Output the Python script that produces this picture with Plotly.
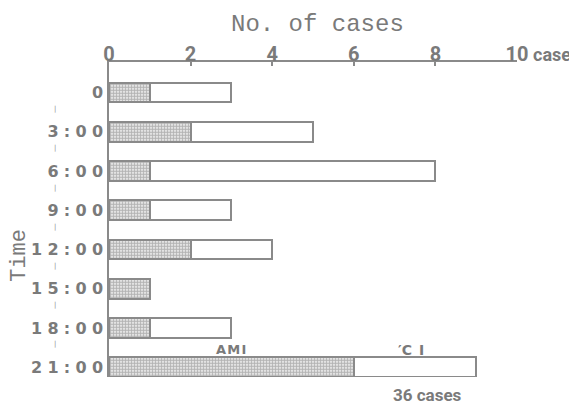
import plotly.graph_objects as go

times = ["0", "3:00", "6:00", "9:00", "12:00", "15:00", "18:00", "21:00"]
ami = [1, 2, 1, 1, 2, 1, 1, 6]
ci = [2, 3, 7, 2, 2, 0, 2, 3]
x_ticks = [0, 2, 4, 6, 8, 10]
x_ticktext = ["0", "2", "4", "6", "8", "10"]

GRAY = "#7a7a7a"
LINE = "#8a8a8a"
NARROW = "Roboto"
rows = list(range(len(times)))
spaced = ["\u2004".join(t) for t in times]

fig = go.Figure()
fig.add_trace(go.Bar(
    y=rows, x=ami, orientation="h", width=0.5, name="AMI",
    marker=dict(color="white", line=dict(color=LINE, width=2),
                pattern=dict(shape=".", fgcolor="#6a6a6a", bgcolor="white", size=3, solidity=0.7)),
))
fig.add_trace(go.Bar(
    y=rows, x=ci, orientation="h", width=0.5, name="CI",
    marker=dict(color="white", line=dict(color=LINE, width=2)),
))

fig.update_layout(
    width=569, height=396,
    margin=dict(l=101, r=60, t=54, b=27),
    barmode="stack", showlegend=False,
    plot_bgcolor="white", paper_bgcolor="white",
    xaxis=dict(
        side="top", range=[0, 10], tickvals=x_ticks, ticktext=x_ticktext,
        showline=True, linecolor=LINE, linewidth=1.5, showgrid=False, zeroline=False,
        ticks="inside", ticklen=4, tickcolor=LINE, tickwidth=1.5,
        tickfont=dict(family=NARROW, size=20, color=GRAY, weight="bold"),
        ticklabelstandoff=-9,
    ),
    yaxis=dict(
        range=[7.25, -0.78], tickvals=rows, ticktext=spaced,
        showline=True, linecolor=LINE, linewidth=1.5, showgrid=False, zeroline=False,
        ticks="", ticklabelstandoff=1,
        tickfont=dict(family="DejaVu Sans", size=16, color=GRAY, weight="bold"),
    ),
)

fig.add_annotation(text="No. of cases", xref="paper", yref="paper", x=0.512, y=1, yshift=38,
                   showarrow=False, xanchor="center", yanchor="middle",
                   font=dict(family="Liberation Mono", size=24, color=GRAY))
fig.add_annotation(text="case", xref="x", yref="paper", x=10, y=1, xshift=14, yshift=8,
                   showarrow=False, xanchor="left", yanchor="middle",
                   font=dict(family=NARROW, size=18, color=GRAY, weight="bold"))
fig.add_annotation(text="Time", xref="paper", yref="paper", x=-0.218, y=0.385,
                   showarrow=False, textangle=-90, xanchor="center", yanchor="middle",
                   font=dict(family="Liberation Mono", size=22, color=GRAY))
fig.add_annotation(text="A\u200aM\u200aI", xref="x", yref="y", x=3.0, y=rows[-1] - 0.45,
                   showarrow=False, xanchor="center", yanchor="middle",
                   font=dict(family="DejaVu Sans", size=13, color=GRAY, weight="bold"))
fig.add_annotation(text="\u2032C\u2002I", xref="x", yref="y", x=7.4, y=rows[-1] - 0.45,
                   showarrow=False, xanchor="center", yanchor="middle",
                   font=dict(family="DejaVu Sans", size=14, color=GRAY, weight="bold"))
fig.add_annotation(text="36 cases", xref="x", yref="paper", x=7.8, y=0, yshift=-18,
                   showarrow=False, xanchor="center", yanchor="middle",
                   font=dict(family=NARROW, size=17, color=GRAY, weight="bold"))
for r in rows:
    fig.add_annotation(text="|", xref="paper", yref="y", x=-0.132, y=r + 0.42,
                       showarrow=False, xanchor="center", yanchor="middle",
                       font=dict(family="DejaVu Sans", size=7, color="#8a8a8a"))

fig.write_html("out.html")
